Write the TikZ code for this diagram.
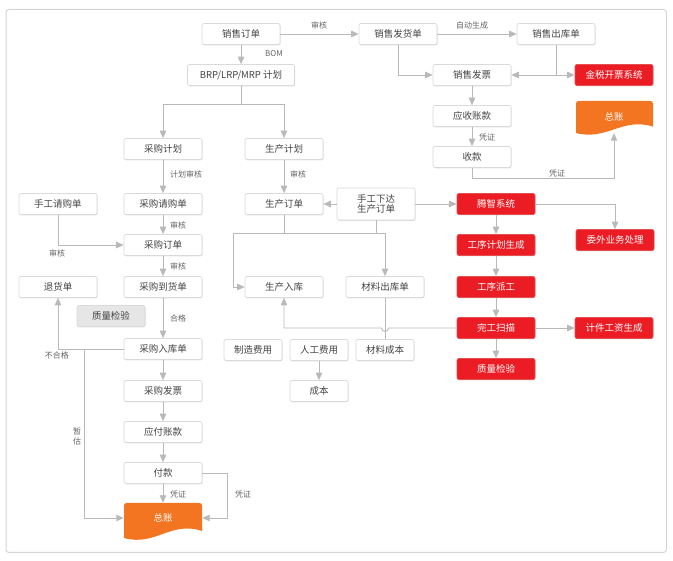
\documentclass[tikz,border=0pt]{standalone}
\usepackage{fontspec}
\setmainfont{Noto Sans CJK SC}
\usetikzlibrary{arrows.meta,shadows,calc}
\definecolor{lnc}{HTML}{B9B9B9}
\definecolor{bdc}{HTML}{DADADA}
\definecolor{txc}{HTML}{444444}
\definecolor{lbc}{HTML}{666666}
\definecolor{redc}{HTML}{EC1C24}
\definecolor{redb}{HTML}{E4504F}
\definecolor{docc}{HTML}{F37521}
\definecolor{grayf}{HTML}{E6E6E6}
\definecolor{framec}{HTML}{D4D4D4}
\newcommand\mydoc[4]{%
  \fill[docc] (#1,{#3+#4}) [rounded corners=2.5pt] -- (#1,#3) -- (#2,#3) [sharp corners] -- (#2,{#3+0.8*#4})
   .. controls ({#1+0.6*(#2-#1)},{#3+0.5*#4}) and ({#1+0.4*(#2-#1)},{#3+1.25*#4}) .. (#1,{#3+#4}) -- cycle;}
\begin{document}
\begin{tikzpicture}[x=1pt,y=-1pt,
  box/.style={draw=bdc, fill=white, rounded corners=2pt, minimum width=78pt, minimum height=21pt,
     inner sep=1pt, text=txc, font=\fontsize{9.5}{11}\selectfont, line width=0.7pt,
     drop shadow={shadow xshift=0.5pt, shadow yshift=-0.9pt, opacity=0.35, fill=black!35}},
  redbox/.style={box, fill=redc, draw=redb, text=white},
  graybox/.style={box, fill=grayf, draw=bdc, minimum width=68pt},
  smallbox/.style={box, minimum width=58pt},
  doctext/.style={text=white, font=\fontsize{9.5}{11}\selectfont, minimum width=78pt, inner sep=0pt},
  lbl/.style={text=lbc, font=\fontsize{8}{10}\selectfont, inner sep=0.5pt},
  ln/.style={draw=lnc, line width=0.9pt, -{Triangle[length=7.5pt,width=6.5pt]}},
  lnn/.style={draw=lnc, line width=0.9pt},
]
\useasboundingbox (0,0) rectangle (673,561);
\draw[framec, rounded corners=3pt, line width=1pt] (6,9.5) rectangle (666.5,552.5);

% document shapes
\mydoc{576}{653}{101}{32}
\mydoc{124}{202}{503}{35}

% nodes
\node[box] (so) at (241,34) {销售订单};
\node[box] (fh) at (398,34) {销售发货单};
\node[box] (ck) at (556,34) {销售出库单};
\node[box, minimum width=107pt] (brp) at (241,75) {BRP/LRP/MRP 计划};
\node[box] (fp) at (472,75) {销售发票};
\node[redbox] (js) at (614,75) {金税开票系统};
\node[box] (ys) at (472,116) {应收账款};
\node[box] (sk) at (472,157) {收款};
\node[doctext, minimum height=32pt] (zz1) at (614,117) {总账};
\node[box] (cgjh) at (163,149) {采购计划};
\node[box] (scjh) at (284,149) {生产计划};
\node[box] (sgqg) at (58,204) {手工请购单};
\node[box] (cgqg) at (163,204) {采购请购单};
\node[box] (scdd) at (284,204) {生产订单};
\node[box, minimum height=32pt, align=center, font=\fontsize{9.5}{10.5}\selectfont] (sgxd) at (376,204) {手工下达\\生产订单};
\node[redbox] (tz) at (496,204) {腾智系统};
\node[redbox] (gxjh) at (496,245) {工序计划生成};
\node[redbox] (ww) at (615,240) {委外业务处理};
\node[box] (cgdd) at (163,245) {采购订单};
\node[box] (thd) at (58,287) {退货单};
\node[box] (cgdh) at (163,287) {采购到货单};
\node[box] (scrk) at (284,287) {生产入库};
\node[box] (clck) at (385,287) {材料出库单};
\node[redbox] (gxpg) at (496,287) {工序派工};
\node[graybox] (zj) at (111,316) {质量检验};
\node[redbox] (wg) at (496,328) {完工扫描};
\node[redbox] (jj) at (614,328) {计件工资生成};
\node[box] (cgrk) at (163,349) {采购入库单};
\node[smallbox] (zzfy) at (253,350) {制造费用};
\node[smallbox] (rgfy) at (319,350) {人工费用};
\node[smallbox] (clcb) at (385,350) {材料成本};
\node[redbox] (zljy) at (496,369) {质量检验};
\node[smallbox] (cb) at (319,391) {成本};
\node[box] (cgfp) at (163,391) {采购发票};
\node[box] (yf) at (163,432) {应付账款};
\node[box] (fk) at (163,473) {付款};
\node[doctext, minimum height=30pt] (zz2) at (163,518) {总账};

% labels
\node[lbl] (l1) at (319,25) {审核};
\node[lbl] (l2) at (472,25) {自动生成};
\node[lbl] (l3) at (274,54) {BOM};
\node[lbl] (l4) at (487,137) {凭证};
\node[lbl] (l5) at (557,173) {凭证};
\node[lbl] (l6) at (186,174) {计划审核};
\node[lbl] (l7) at (298,174) {审核};
\node[lbl] (l8) at (178,225) {审核};
\node[lbl] (l9) at (57,253) {审核};
\node[lbl] (l10) at (178,266) {审核};
\node[lbl] (l11) at (178,318) {合格};
\node[lbl] (l12) at (57,355) {不合格};
\node[lbl, align=center] (l13) at (77,436) {暂\\估};
\node[lbl] (l14) at (178,494) {凭证};
\node[lbl] (l15) at (243,494) {凭证};

% sales connectors
\draw[ln] (so) -- (fh);
\draw[ln] (fh) -- (ck);
\draw[ln] (so) -- (brp);
\draw[ln] (fh.south) |- (fp.west);
\draw[ln] (ck.south) |- (fp.east);
\draw[ln] (ck.south) |- (js.west);
\draw[ln] (fp) -- (ys);
\draw[ln] (ys) -- (sk);
\draw[ln] (sk.south) -- ++(0,11) -| (zz1.south);

% planning
\draw[ln] (brp.south) -- ++(0,18.5) -| (cgjh.north);
\draw[ln] (brp.south) -- ++(0,18.5) -| (scjh.north);
\draw[ln] (cgjh) -- (cgqg);
\draw[ln] (scjh) -- (scdd);
\draw[ln] (sgxd.west) -- (scdd.east);
\draw[ln] (sgxd.east) -- (tz.west);

% production
\draw[ln] (scdd.south) -- ++(0,18.5) -- ++(-51,0) |- (scrk.west);
\draw[ln] (scdd.south) -- ++(0,18.5) -| (clck.north);
\draw[lnn] (sgxd.south) -- ++(0,13);
\draw[lnn] (clck) -- (clcb);
\coordinate (jmp) at (clck.south |- wg.west);
\draw[ln] (wg.west) -- ([xshift=3.5pt]jmp) arc[start angle=0, end angle=-180, radius=3.5pt] -| (scrk.south);
\draw[ln] (rgfy) -- (cb);

% tengzhi system
\draw[ln] (tz) -- (gxjh);
\draw[ln] (tz.east) -| (ww.north);
\draw[ln] (gxjh) -- (gxpg);
\draw[ln] (gxpg) -- (wg);
\draw[ln] (wg) -- (zljy);
\draw[ln] (wg) -- (jj);

% purchasing
\draw[ln] (sgqg.south) |- (cgdd.west);
\draw[ln] (cgqg) -- (cgdd);
\draw[ln] (cgdd) -- (cgdh);
\draw[ln] (cgdh) -- (cgrk);
\draw[ln] (cgrk.west) -| (thd.south);
\coordinate (zg) at (84,349);
\draw[ln] (zg) |- (zz2.west);
\draw[ln] (cgrk) -- (cgfp);
\draw[ln] (cgfp) -- (yf);
\draw[ln] (yf) -- (fk);
\draw[ln] (fk) -- (zz2);
\draw[ln] (fk.east) -- ++(25,0) |- (zz2.east);
\end{tikzpicture}
\end{document}
